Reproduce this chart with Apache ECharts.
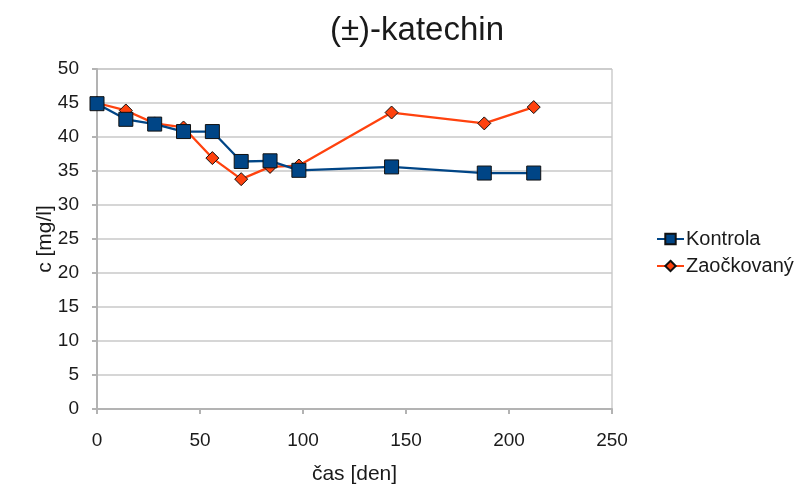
<!DOCTYPE html>
<html><head><meta charset="utf-8">
<script src="https://cdn.jsdelivr.net/npm/echarts@6/dist/echarts.min.js"></script>
<style>html,body{margin:0;padding:0;background:#fff}#c{width:806px;height:490px}</style>
</head><body><div id="c"></div>
<script>
const days = [0, 14, 28, 42, 56, 70, 84, 98, 143, 188, 212];
const kontrola = [44.9, 42.6, 41.9, 40.8, 40.8, 36.4, 36.5, 35.1, 35.6, 34.7, 34.7];
const zaockovany = [45.0, 43.9, 42.0, 41.4, 36.9, 33.8, 35.6, 35.8, 43.6, 42.0, 44.4];
const seriesNames = ['Kontrola', 'Zaočkovaný'];
const titleText = '(±)-katechin';

const font = "'Liberation Sans', Arial, sans-serif";
const chart = echarts.init(document.getElementById('c'), null, {renderer: 'canvas'});
const toPairs = (xs, ys) => xs.map((x, i) => [x, ys[i]]);
chart.setOption({
  animation: false,
  backgroundColor: '#fff',
  title: {text: titleText, left: 412, top: 9, textAlign: 'center',
    textStyle: {fontFamily: font, fontSize: 33, fontWeight: 'normal', color: '#1a1a1a'}},
  grid: {left: 97, right: 194, top: 69, bottom: 81, show: true, borderColor: '#b3b3b3', borderWidth: 1},
  legend: {left: 651, top: 224, orient: 'vertical', itemWidth: 27, itemHeight: 13, itemGap: 7,
    textStyle: {fontFamily: font, fontSize: 20, color: '#1a1a1a', padding: [0, 0, 0, -3]},
    data: seriesNames},
  xAxis: {type: 'value', min: 0, max: 250, interval: 50,
    name: 'čas [den]', nameLocation: 'middle', nameGap: 55, nameMoveOverlap: false,
    nameTextStyle: {fontFamily: font, fontSize: 21, color: '#1a1a1a'},
    axisLine: {show: true, lineStyle: {color: '#b3b3b3', width: 2}},
    axisTick: {show: true, length: 5, lineStyle: {color: '#b3b3b3', width: 2}},
    axisLabel: {fontFamily: font, fontSize: 19, color: '#1a1a1a', margin: 22},
    splitLine: {show: false}},
  yAxis: {type: 'value', min: 0, max: 50, interval: 5,
    name: 'c [mg/l]', nameLocation: 'middle', nameGap: 41, nameRotate: 90, nameMoveOverlap: false,
    nameTextStyle: {fontFamily: font, fontSize: 21, color: '#1a1a1a'},
    axisLine: {show: true, lineStyle: {color: '#b3b3b3', width: 2}},
    axisTick: {show: true, length: 5, lineStyle: {color: '#b3b3b3', width: 2}},
    axisLabel: {fontFamily: font, fontSize: 19, color: '#1a1a1a', margin: 18},
    splitLine: {show: true, lineStyle: {color: '#c8c8c8', width: 1.5}}},
  series: [
    {name: seriesNames[0], type: 'line', data: toPairs(days, kontrola),
      symbol: 'rect', symbolSize: 14, z: 3,
      lineStyle: {color: '#004586', width: 2.3},
      itemStyle: {color: '#004586', borderColor: '#111', borderWidth: 1}},
    {name: seriesNames[1], type: 'line', data: toPairs(days, zaockovany),
      symbol: 'diamond', symbolSize: 13, z: 2,
      lineStyle: {color: '#ff420e', width: 2.3},
      itemStyle: {color: '#ff420e', borderColor: '#111', borderWidth: 1}}
  ]
});
</script></body></html>
